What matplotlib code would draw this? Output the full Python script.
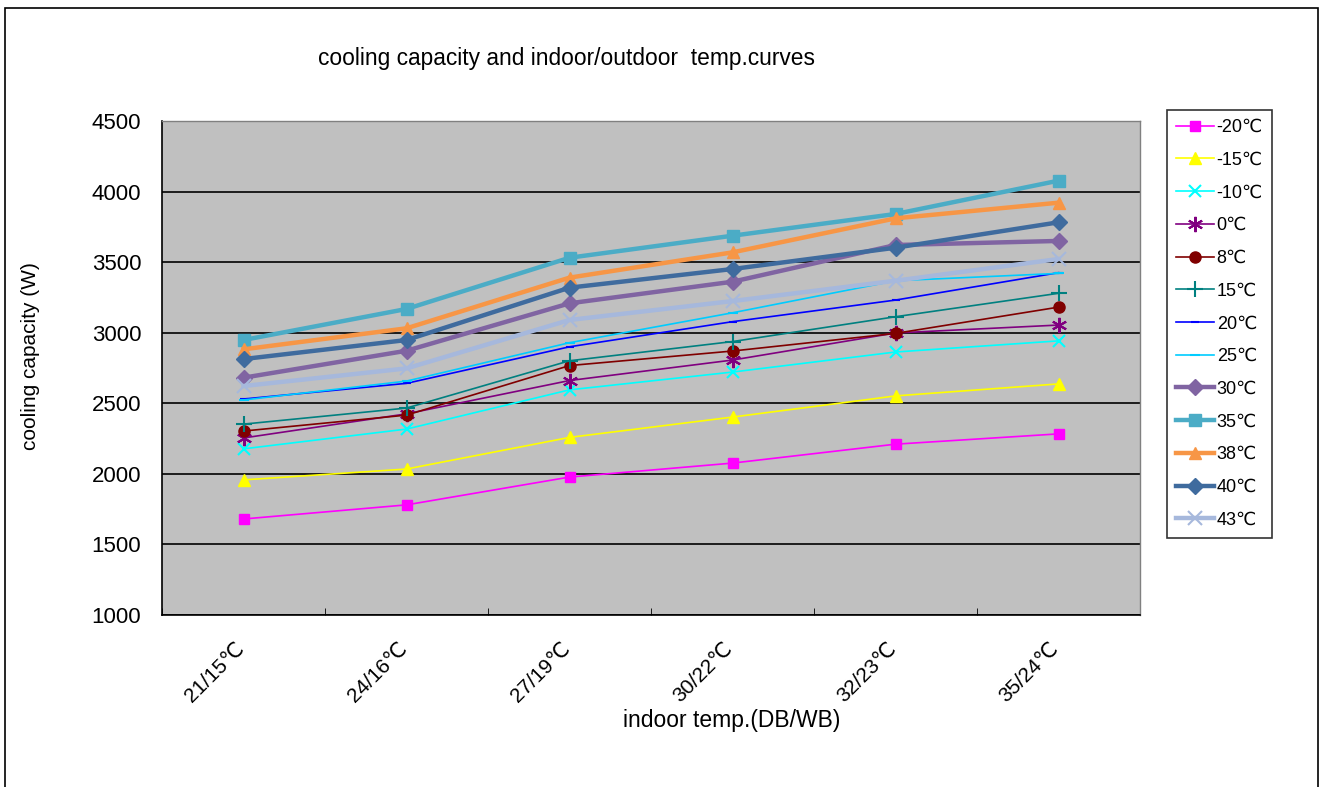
import numpy as np
import matplotlib
matplotlib.use("Agg")
import matplotlib.pyplot as plt
import matplotlib.transforms as mtransforms
from matplotlib.patches import Rectangle

plt.rcParams['font.family'] = ['Liberation Sans', 'DejaVu Sans']

categories = ['21/15℃', '24/16℃', '27/19℃', '30/22℃', '32/23℃', '35/24℃']
labels = ['-20℃', '-15℃', '-10℃', '0℃', '8℃', '15℃', '20℃', '25℃', '30℃', '35℃', '38℃', '40℃', '43℃']

s_m20 = [1680, 1780, 1977, 2076, 2210, 2283]
s_m15 = [1957, 2034, 2258, 2402, 2552, 2637]
s_m10 = [2177, 2317, 2595, 2721, 2863, 2942]
s_0 = [2254, 2425, 2661, 2806, 2998, 3054]
s_8 = [2303, 2416, 2767, 2870, 2995, 3181]
s_15 = [2352, 2466, 2801, 2937, 3113, 3279]
s_20 = [2530, 2641, 2900, 3078, 3231, 3425]
s_25 = [2523, 2657, 2929, 3141, 3368, 3420]
s_30 = [2681, 2872, 3208, 3361, 3621, 3650]
s_35 = [2948, 3168, 3531, 3687, 3841, 4077]
s_38 = [2882, 3031, 3390, 3569, 3810, 3921]
s_40 = [2813, 2948, 3319, 3451, 3602, 3782]
s_43 = [2622, 2747, 3090, 3224, 3368, 3522]

series = [s_m20, s_m15, s_m10, s_0, s_8, s_15, s_20, s_25, s_30, s_35, s_38, s_40, s_43]
colors = ['#FF00FF', '#FFFF00', '#00FFFF', '#800080', '#800000', '#008080', '#0000FF',
          '#00CCFF', '#8064A2', '#4BACC6', '#F79646', '#3F6B9E', '#A6B8DC']
markers = ['s', '^', 'x', (6, 2, 0), 'o', '+', '_', '_', 'D', 's', '^', 'D', 'x']
msizes = [7, 8, 9, 11, 8, 11, 6, 7, 8, 9, 9, 8, 10]
widths = [1.2] * 8 + [3.2] * 5

fig = plt.figure(figsize=(13.25, 7.87), dpi=100)
ax = fig.add_axes([0.1223, 0.2186, 0.7381, 0.6277])
ax.set_facecolor('#C0C0C0')

x = np.arange(len(categories))
handles = []
for s, c, m, ms, lw, lab in zip(series, colors, markers, msizes, widths, labels):
    mew = 1.5 if m in ('x', '+', '_') or isinstance(m, tuple) else 1
    h, = ax.plot(x, s, color=c, marker=m, markersize=ms, linewidth=lw,
                 markeredgecolor=c, markerfacecolor=c, markeredgewidth=mew, label=lab)
    handles.append(h)

ax.set_xlim(-0.5, 5.5)
ax.set_ylim(1000, 4500)
ax.set_yticks(np.arange(1000, 4501, 500))
ax.yaxis.grid(True, color='black', linewidth=1.2)
ax.set_axisbelow(True)
ax.set_xticks(x)
ax.set_xticks(np.arange(-0.5, 6, 1), minor=True)
ax.tick_params(axis='x', which='major', length=0, pad=22)
ax.tick_params(axis='x', which='minor', length=5, direction='in', color='black')
ax.tick_params(axis='y', labelsize=16, length=0, pad=15)
ax.set_xticklabels(categories, rotation=45, ha='right', rotation_mode='anchor', fontsize=15)
# nudge the slanted labels left and up (after tick_params, which resets transforms)
offset = mtransforms.ScaledTranslation(-0.09, 0.07, fig.dpi_scale_trans)
for lab in ax.get_xticklabels():
    lab.set_transform(lab.get_transform() + offset)
for sp in ['top', 'right']:
    ax.spines[sp].set_color('#808080')
    ax.spines[sp].set_linewidth(1)
ax.spines['left'].set_linewidth(1.2)
ax.spines['bottom'].set_linewidth(1.2)

fig.text(732 / 1325, 1 - 720 / 787, 'indoor temp.(DB/WB)', fontsize=16.5, ha='center', va='center')
fig.text(31 / 1325, 1 - 356 / 787, 'cooling capacity (W)', fontsize=15, rotation=90,
         ha='center', va='center')
fig.text(566 / 1325, 1 - 58 / 787, 'cooling capacity and indoor/outdoor  temp.curves', fontsize=16.4,
         ha='center', va='center')

leg = fig.legend(handles=handles, loc='upper left', bbox_to_anchor=(1167 / 1325, 1 - 110 / 787),
                 fontsize=13, frameon=True, fancybox=False, edgecolor='black',
                 handlelength=2.1, labelspacing=0.87, borderpad=0.5, handletextpad=0.15,
                 borderaxespad=0)
leg.get_frame().set_linewidth(1.2)

fig.patches.append(Rectangle((0.004, -0.01), 0.991, 1.0, transform=fig.transFigure,
                             fill=False, edgecolor='black', linewidth=1.2))

fig.savefig('out.png', dpi=100)
